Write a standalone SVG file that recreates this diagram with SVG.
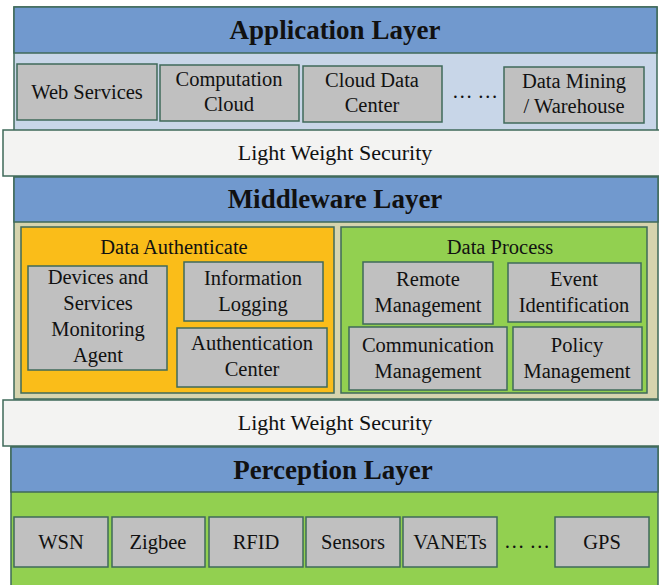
<svg xmlns="http://www.w3.org/2000/svg" width="659" height="585" viewBox="0 0 659 585">
  <style>
    text { font-family: "Times New Roman", "Liberation Serif", Times, "DejaVu Serif", serif; fill: #111; text-anchor: middle; }
    .hdr { fill: #7199CE; stroke: #3F6A5A; stroke-width: 1.5; }
    .htxt { font-size: 27px; font-weight: bold; }
    .app { fill: #C8D6E8; stroke: #3F6A5A; stroke-width: 1.5; }
    .mid { fill: #D6D4AE; stroke: #3F6A5A; stroke-width: 1.5; }
    .per { fill: #92D050; stroke: #3F6A5A; stroke-width: 1.5; }
    .sec { fill: #F3F3F2; stroke: #3F6A5A; stroke-width: 1.5; }
    .stxt { font-size: 22px; }
    .auth { fill: #FABD19; stroke: #3F6A5A; stroke-width: 1.5; }
    .proc { fill: #92D050; stroke: #3F6A5A; stroke-width: 1.5; }
    .box { fill: #C0C0C0; stroke: #3F6A5A; stroke-width: 1.5; }
    .btxt { font-size: 20.5px; }
    .gtxt { font-size: 20.5px; }
  </style>

  <!-- Application layer -->
  <g id="application-layer">
    <rect class="app" x="14" y="7" width="643" height="124"/>
    <rect class="hdr" x="14" y="7" width="643" height="46"/>
    <text class="htxt" x="335" y="39">Application Layer</text>
  </g>
  <g id="web-services">
    <rect class="box" x="17" y="64" width="140" height="56"/>
    <text class="btxt" x="87" y="99">Web Services</text>
  </g>
  <g id="computation-cloud">
    <rect class="box" x="160" y="65" width="139" height="56"/>
    <text class="btxt" x="229" y="86">Computation</text>
    <text class="btxt" x="229" y="111">Cloud</text>
  </g>
  <g id="cloud-data-center">
    <rect class="box" x="303" y="66" width="139" height="56"/>
    <text class="btxt" x="372" y="87">Cloud Data</text>
    <text class="btxt" x="372" y="112">Center</text>
  </g>
  <text class="btxt" x="475" y="98">… …</text>
  <g id="data-mining">
    <rect class="box" x="504" y="67" width="140" height="56"/>
    <text class="btxt" x="574" y="88">Data Mining</text>
    <text class="btxt" x="574" y="113">/ Warehouse</text>
  </g>

  <!-- Security band between application and middleware -->
  <g id="security-upper">
    <rect class="sec" x="3" y="130" width="660" height="46"/>
    <text class="stxt" x="335" y="160">Light Weight Security</text>
  </g>

  <!-- Middleware layer -->
  <g id="middleware-layer">
    <rect class="mid" x="14" y="177" width="644" height="222"/>
    <rect class="hdr" x="14" y="177" width="644" height="45"/>
    <text class="htxt" x="335" y="208">Middleware Layer</text>
  </g>
  <g id="data-authenticate">
    <rect class="auth" x="21" y="227" width="313" height="166"/>
    <text class="gtxt" x="174" y="254">Data Authenticate</text>
  </g>
  <g id="monitoring-agent">
    <rect class="box" x="28" y="266" width="139" height="104"/>
    <text class="btxt" x="98" y="284">Devices and</text>
    <text class="btxt" x="98" y="310">Services</text>
    <text class="btxt" x="98" y="336">Monitoring</text>
    <text class="btxt" x="98" y="362">Agent</text>
  </g>
  <g id="information-logging">
    <rect class="box" x="184" y="262" width="139" height="59"/>
    <text class="btxt" x="253" y="285">Information</text>
    <text class="btxt" x="253" y="311">Logging</text>
  </g>
  <g id="authentication-center">
    <rect class="box" x="177" y="328" width="150" height="59"/>
    <text class="btxt" x="252" y="350">Authentication</text>
    <text class="btxt" x="252" y="376">Center</text>
  </g>
  <g id="data-process">
    <rect class="proc" x="341" y="227" width="306" height="166"/>
    <text class="gtxt" x="500" y="254">Data Process</text>
  </g>
  <g id="remote-management">
    <rect class="box" x="363" y="262" width="130" height="62"/>
    <text class="btxt" x="428" y="286">Remote</text>
    <text class="btxt" x="428" y="312">Management</text>
  </g>
  <g id="event-identification">
    <rect class="box" x="508" y="263" width="133" height="59"/>
    <text class="btxt" x="574" y="286">Event</text>
    <text class="btxt" x="574" y="312">Identification</text>
  </g>
  <g id="communication-management">
    <rect class="box" x="349" y="327" width="158" height="63"/>
    <text class="btxt" x="428" y="352">Communication</text>
    <text class="btxt" x="428" y="378">Management</text>
  </g>
  <g id="policy-management">
    <rect class="box" x="513" y="327" width="129" height="63"/>
    <text class="btxt" x="577" y="352">Policy</text>
    <text class="btxt" x="577" y="378">Management</text>
  </g>

  <!-- Security band between middleware and perception -->
  <g id="security-lower">
    <rect class="sec" x="3" y="400" width="660" height="46"/>
    <text class="stxt" x="335" y="430">Light Weight Security</text>
  </g>

  <!-- Perception layer -->
  <g id="perception-layer">
    <rect class="per" x="11" y="447" width="647" height="145"/>
    <rect class="hdr" x="11" y="447" width="647" height="45"/>
    <text class="htxt" x="333" y="479">Perception Layer</text>
  </g>
  <g id="wsn">
    <rect class="box" x="14" y="517" width="94" height="50"/>
    <text class="btxt" x="61" y="549">WSN</text>
  </g>
  <g id="zigbee">
    <rect class="box" x="112" y="517" width="93" height="50"/>
    <text class="btxt" x="158" y="549">Zigbee</text>
  </g>
  <g id="rfid">
    <rect class="box" x="209" y="517" width="94" height="50"/>
    <text class="btxt" x="256" y="549">RFID</text>
  </g>
  <g id="sensors">
    <rect class="box" x="306" y="517" width="94" height="50"/>
    <text class="btxt" x="353" y="549">Sensors</text>
  </g>
  <g id="vanets">
    <rect class="box" x="403" y="517" width="94" height="50"/>
    <text class="btxt" x="450" y="549">VANETs</text>
  </g>
  <text class="btxt" x="527" y="548">… …</text>
  <g id="gps">
    <rect class="box" x="555" y="517" width="94" height="50"/>
    <text class="btxt" x="602" y="549">GPS</text>
  </g>

  <!-- no connectors in this layered stack -->
  <g id="connectors"/>
</svg>
